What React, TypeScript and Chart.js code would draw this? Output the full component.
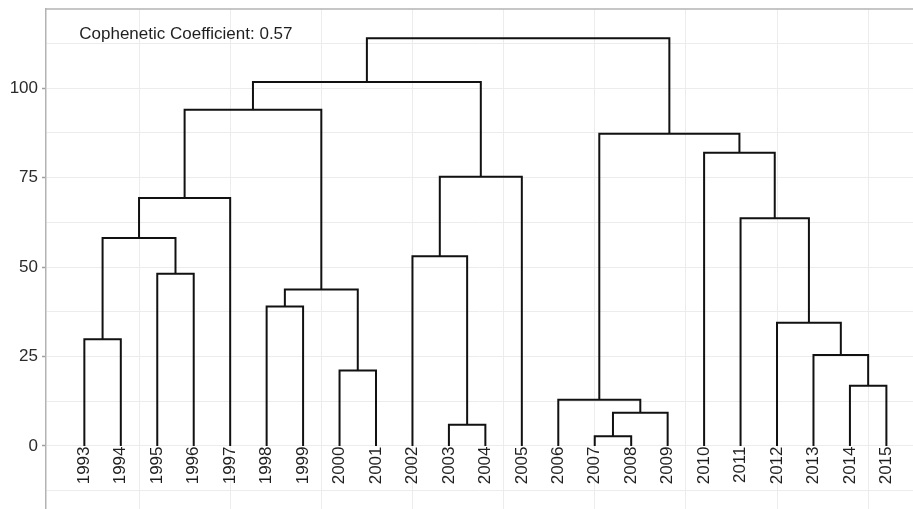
import React, { useEffect, useRef } from 'react';
import { Chart, registerables } from 'chart.js';

Chart.register(...registerables);

// Leaves of the dendrogram, in display order
const leafLabels = [
  '1993', '1994', '1995', '1996', '1997', '1998', '1999', '2000', '2001', '2002', '2003', '2004',
  '2005', '2006', '2007', '2008', '2009', '2010', '2011', '2012', '2013', '2014', '2015',
];

// Merges: node ids < 23 are leaves (index in leafLabels), id 23+k is the cluster created by merge k
const mergeLeft = [0, 2, 23, 25, 5, 7, 27, 26, 10, 9, 32, 30, 14, 35, 13, 21, 20, 19, 18, 17, 37, 34];
const mergeRight = [1, 3, 24, 4, 6, 8, 28, 29, 11, 31, 12, 33, 15, 16, 36, 22, 38, 39, 40, 41, 42, 43];
const mergeHeight = [
  29.8, 48.1, 58.1, 69.3, 39.0, 21.1, 43.7, 93.9, 5.9, 53.0, 75.2, 101.7,
  2.7, 9.3, 12.9, 16.8, 25.4, 34.4, 63.6, 81.9, 87.2, 113.9,
];

const yTickValues = [-12.5, 0, 12.5, 25, 37.5, 50, 62.5, 75, 87.5, 100, 112.5];
const yLabeledTicks = [0, 25, 50, 75, 100];
const xGridValues = [2.5, 5, 7.5, 10, 12.5, 15, 17.5, 20, 22.5];

const annotationText = 'Cophenetic Coefficient: 0.57';
const annotationX = 0.86;
const annotationY = 113.7;

const FONT = '"Liberation Sans", Arial, Helvetica, sans-serif';

function buildSegments() {
  const xs: number[] = leafLabels.map((_, i) => i + 1);
  const hs: number[] = leafLabels.map(() => 0);
  const segs: { x: number; y: number }[][] = [];
  mergeHeight.forEach((h, k) => {
    const a = mergeLeft[k];
    const b = mergeRight[k];
    const xa = xs[a];
    const xb = xs[b];
    segs.push([
      { x: xa, y: hs[a] },
      { x: xa, y: h },
      { x: xb, y: h },
      { x: xb, y: hs[b] },
    ]);
    xs.push((xa + xb) / 2);
    hs.push(h);
  });
  return segs;
}

const overlayPlugin = {
  id: 'overlay',
  afterDatasetsDraw(chart: any) {
    const { ctx, chartArea, scales } = chart;
    const x = scales.x;
    const y = scales.y;
    ctx.save();
    ctx.strokeStyle = '#b3b3b3';
    ctx.lineWidth = 1.5;
    ctx.beginPath();
    ctx.moveTo(chartArea.left - 0.75, chartArea.top);
    ctx.lineTo(chartArea.right, chartArea.top);
    ctx.stroke();

    ctx.fillStyle = '#1f1f1f';
    ctx.font = `17px ${FONT}`;
    ctx.textAlign = 'right';
    ctx.textBaseline = 'middle';
    const y0 = y.getPixelForValue(0);
    leafLabels.forEach((lab, i) => {
      ctx.save();
      ctx.translate(x.getPixelForValue(i + 1), y0 + 0.5);
      ctx.rotate(-Math.PI / 2);
      ctx.fillText(lab, 0, 0);
      ctx.restore();
    });

    ctx.textAlign = 'left';
    ctx.textBaseline = 'alphabetic';
    ctx.fillText(annotationText, x.getPixelForValue(annotationX), y.getPixelForValue(annotationY));
    ctx.restore();
  },
};

export default function App() {
  const canvasRef = useRef<HTMLCanvasElement | null>(null);

  useEffect(() => {
    if (!canvasRef.current) return;
    const segs = buildSegments();
    const chart = new Chart(canvasRef.current, {
      type: 'scatter',
      data: {
        datasets: segs.map((s) => ({
          data: s,
          showLine: true,
          borderColor: '#111111',
          borderWidth: 2,
          pointRadius: 0,
          pointHoverRadius: 0,
          tension: 0,
          fill: false,
          borderJoinStyle: 'miter' as const,
          borderCapStyle: 'butt' as const,
        })),
      },
      options: {
        animation: false,
        responsive: true,
        maintainAspectRatio: false,
        layout: { padding: { top: 9, right: 0, bottom: 0, left: 0 } },
        plugins: { legend: { display: false }, tooltip: { enabled: false } },
        scales: {
          x: {
            type: 'linear',
            min: -0.052,
            max: 23.73,
            afterBuildTicks: (scale: any) => {
              scale.ticks = xGridValues.map((v) => ({ value: v }));
            },
            afterFit: (scale: any) => {
              scale.height = 0;
              scale.paddingLeft = 0;
              scale.paddingRight = 0;
            },
            ticks: { display: false },
            grid: { color: '#ececec', lineWidth: 1, drawTicks: false },
            border: { display: false },
          },
          y: {
            type: 'linear',
            min: -17.6,
            max: 122.07,
            afterBuildTicks: (scale: any) => {
              scale.ticks = yTickValues.map((v) => ({ value: v }));
            },
            afterFit: (scale: any) => {
              scale.width = 46;
              scale.paddingTop = 0;
              scale.paddingBottom = 0;
            },
            ticks: {
              autoSkip: false,
              padding: 4,
              color: '#2b2b2b',
              font: { family: FONT, size: 17 },
              callback: (v: any) => (yLabeledTicks.includes(Number(v)) ? String(v) : ''),
            },
            grid: {
              color: '#ececec',
              lineWidth: 1,
              tickLength: 4,
              tickColor: (c: any) =>
                c.tick && yLabeledTicks.includes(c.tick.value) ? '#a0a0a0' : 'rgba(0,0,0,0)',
              tickWidth: 1.5,
            },
            border: { display: true, color: '#b3b3b3', width: 1.5 },
          },
        },
      },
      plugins: [overlayPlugin],
    });
    return () => chart.destroy();
  }, []);

  return (
    <div style={{ position: 'absolute', left: 0, top: 0, width: 913, height: 509, background: '#fff' }}>
      <canvas ref={canvasRef} />
    </div>
  );
}
